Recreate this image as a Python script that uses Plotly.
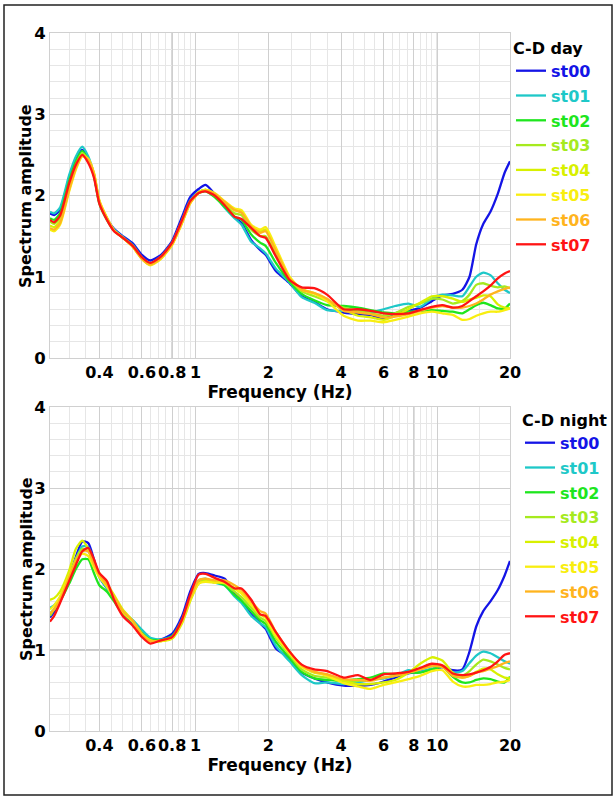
import plotly.graph_objects as go
import math

freq = [0.25, 0.26, 0.275, 0.30, 0.32, 0.34, 0.36, 0.38, 0.40, 0.43, 0.46, 0.50, 0.55, 0.60, 0.65,
        0.72, 0.80, 0.88, 0.95, 1.03, 1.10, 1.20, 1.32, 1.45, 1.55, 1.70, 1.85, 1.95, 2.15, 2.45,
        2.75, 3.1, 3.5, 4.1, 4.7, 5.3, 6.0, 6.7, 7.6, 8.5, 9.5, 10.5, 11.6, 12.7, 13.6, 14.5,
        15.5, 16.6, 17.8, 19.0, 20.0]

stations = ["st00", "st01", "st02", "st03", "st04", "st05", "st06", "st07"]
colors = ["#1414e6", "#1ec8c8", "#1ee61e", "#a6ea1e", "#d8f000", "#f8ee10", "#ffb41e", "#ff1414"]

day_st00 = [1.78, 1.76, 1.82, 2.22, 2.45, 2.56, 2.45, 2.25, 1.92, 1.72, 1.59, 1.50, 1.41, 1.27, 1.20,
            1.27, 1.44, 1.74, 1.98, 2.08, 2.13, 2.02, 1.87, 1.73, 1.66, 1.45, 1.33, 1.27, 1.07, 0.92,
            0.76, 0.69, 0.60, 0.56, 0.54, 0.53, 0.48, 0.55, 0.58, 0.62, 0.70, 0.77, 0.79, 0.84, 1.00,
            1.40, 1.65, 1.80, 2.02, 2.28, 2.42]
day_st01 = [1.80, 1.78, 1.85, 2.25, 2.48, 2.60, 2.48, 2.26, 1.92, 1.71, 1.58, 1.49, 1.39, 1.24, 1.17,
            1.25, 1.42, 1.70, 1.94, 2.04, 2.07, 2.00, 1.85, 1.72, 1.64, 1.43, 1.35, 1.29, 1.10, 0.93,
            0.75, 0.68, 0.59, 0.58, 0.57, 0.56, 0.60, 0.64, 0.67, 0.63, 0.73, 0.78, 0.77, 0.76, 0.88,
            1.00, 1.05, 1.02, 0.92, 0.84, 0.80]
day_st02 = [1.72, 1.70, 1.78, 2.18, 2.42, 2.55, 2.43, 2.24, 1.90, 1.70, 1.57, 1.48, 1.38, 1.23, 1.15,
            1.24, 1.41, 1.68, 1.92, 2.03, 2.05, 1.98, 1.86, 1.74, 1.70, 1.52, 1.42, 1.38, 1.17, 0.94,
            0.79, 0.71, 0.65, 0.64, 0.62, 0.59, 0.56, 0.55, 0.57, 0.58, 0.59, 0.58, 0.57, 0.55, 0.60,
            0.65, 0.68, 0.65, 0.61, 0.61, 0.67]
day_st03 = [1.68, 1.65, 1.72, 2.12, 2.38, 2.52, 2.44, 2.25, 1.92, 1.71, 1.57, 1.48, 1.38, 1.23, 1.16,
            1.24, 1.41, 1.68, 1.92, 2.04, 2.07, 2.00, 1.89, 1.78, 1.76, 1.58, 1.50, 1.50, 1.27, 0.97,
            0.82, 0.76, 0.70, 0.62, 0.58, 0.55, 0.52, 0.55, 0.63, 0.67, 0.73, 0.72, 0.67, 0.70, 0.78,
            0.90, 0.92, 0.89, 0.87, 0.88, 0.86]
day_st04 = [1.63, 1.61, 1.68, 2.08, 2.35, 2.50, 2.45, 2.27, 1.93, 1.72, 1.57, 1.48, 1.37, 1.22, 1.15,
            1.23, 1.40, 1.67, 1.91, 2.04, 2.07, 2.02, 1.91, 1.82, 1.80, 1.62, 1.56, 1.58, 1.33, 0.99,
            0.85, 0.80, 0.72, 0.60, 0.52, 0.50, 0.47, 0.52, 0.60, 0.68, 0.76, 0.76, 0.73, 0.69, 0.72,
            0.74, 0.77, 0.76, 0.66, 0.62, 0.61]
day_st05 = [1.58, 1.56, 1.64, 2.05, 2.32, 2.48, 2.45, 2.28, 1.94, 1.73, 1.57, 1.48, 1.37, 1.22, 1.14,
            1.22, 1.39, 1.66, 1.90, 2.03, 2.07, 2.03, 1.93, 1.84, 1.82, 1.64, 1.58, 1.61, 1.36, 1.00,
            0.84, 0.79, 0.70, 0.52, 0.46, 0.46, 0.44, 0.47, 0.51, 0.55, 0.57, 0.55, 0.53, 0.47, 0.48,
            0.52, 0.55, 0.57, 0.57, 0.59, 0.61]
day_st06 = [1.60, 1.58, 1.66, 2.07, 2.34, 2.49, 2.44, 2.27, 1.93, 1.72, 1.57, 1.48, 1.37, 1.22, 1.15,
            1.23, 1.40, 1.67, 1.91, 2.03, 2.06, 2.02, 1.92, 1.82, 1.79, 1.62, 1.54, 1.56, 1.32, 0.98,
            0.84, 0.80, 0.73, 0.58, 0.56, 0.54, 0.50, 0.51, 0.54, 0.58, 0.62, 0.64, 0.62, 0.62, 0.64,
            0.67, 0.72, 0.78, 0.82, 0.85, 0.87]
day_st07 = [1.70, 1.67, 1.75, 2.15, 2.38, 2.50, 2.40, 2.22, 1.90, 1.70, 1.56, 1.48, 1.38, 1.24, 1.17,
            1.25, 1.42, 1.70, 1.93, 2.03, 2.05, 2.00, 1.88, 1.74, 1.71, 1.60, 1.50, 1.48, 1.25, 0.96,
            0.87, 0.86, 0.78, 0.60, 0.60, 0.58, 0.55, 0.54, 0.55, 0.59, 0.63, 0.65, 0.62, 0.64, 0.70,
            0.76, 0.82, 0.89, 0.98, 1.04, 1.07]

night_st00 = [1.40, 1.47, 1.62, 1.90, 2.15, 2.34, 2.32, 2.12, 1.90, 1.76, 1.64, 1.45, 1.34, 1.20, 1.12,
              1.13, 1.20, 1.42, 1.72, 1.94, 1.95, 1.92, 1.88, 1.70, 1.60, 1.44, 1.33, 1.26, 1.02, 0.90,
              0.72, 0.65, 0.60, 0.56, 0.56, 0.57, 0.61, 0.66, 0.71, 0.73, 0.76, 0.79, 0.75, 0.76, 0.98,
              1.29, 1.48, 1.60, 1.74, 1.92, 2.10]
night_st01 = [1.52, 1.55, 1.65, 1.92, 2.12, 2.28, 2.27, 2.08, 1.90, 1.76, 1.62, 1.47, 1.37, 1.25, 1.15,
              1.13, 1.17, 1.38, 1.65, 1.86, 1.88, 1.83, 1.80, 1.66, 1.58, 1.42, 1.33, 1.28, 1.05, 0.86,
              0.69, 0.59, 0.60, 0.58, 0.60, 0.63, 0.65, 0.68, 0.75, 0.73, 0.77, 0.80, 0.72, 0.74, 0.84,
              0.93, 0.98, 0.96, 0.91, 0.86, 0.83]
night_st02 = [1.45, 1.50, 1.60, 1.82, 2.00, 2.12, 2.12, 1.95, 1.80, 1.72, 1.60, 1.45, 1.35, 1.21, 1.13,
              1.12, 1.17, 1.37, 1.63, 1.85, 1.87, 1.84, 1.80, 1.68, 1.61, 1.48, 1.37, 1.32, 1.10, 0.90,
              0.73, 0.65, 0.63, 0.62, 0.64, 0.66, 0.71, 0.70, 0.72, 0.72, 0.76, 0.79, 0.67, 0.60, 0.60,
              0.63, 0.65, 0.64, 0.61, 0.60, 0.67]
night_st03 = [1.42, 1.50, 1.63, 1.90, 2.13, 2.25, 2.22, 2.05, 1.93, 1.80, 1.66, 1.47, 1.35, 1.20, 1.12,
              1.11, 1.15, 1.36, 1.63, 1.85, 1.87, 1.85, 1.82, 1.72, 1.65, 1.52, 1.40, 1.36, 1.15, 0.94,
              0.76, 0.68, 0.66, 0.62, 0.62, 0.64, 0.66, 0.68, 0.72, 0.76, 0.80, 0.80, 0.70, 0.68, 0.74,
              0.82, 0.88, 0.86, 0.82, 0.78, 0.76]
night_st04 = [1.62, 1.64, 1.72, 1.98, 2.25, 2.35, 2.25, 2.08, 1.95, 1.82, 1.68, 1.50, 1.36, 1.20, 1.12,
              1.11, 1.14, 1.33, 1.60, 1.82, 1.85, 1.84, 1.84, 1.76, 1.70, 1.56, 1.44, 1.40, 1.18, 0.96,
              0.80, 0.72, 0.70, 0.62, 0.58, 0.58, 0.60, 0.63, 0.72, 0.83, 0.91, 0.87, 0.72, 0.66, 0.68,
              0.73, 0.77, 0.76, 0.70, 0.66, 0.65]
night_st05 = [1.50, 1.55, 1.66, 1.92, 2.10, 2.19, 2.16, 2.02, 1.90, 1.78, 1.64, 1.47, 1.35, 1.19, 1.11,
              1.11, 1.15, 1.35, 1.62, 1.82, 1.84, 1.83, 1.83, 1.76, 1.70, 1.56, 1.44, 1.40, 1.17, 0.96,
              0.79, 0.73, 0.68, 0.59, 0.55, 0.52, 0.57, 0.60, 0.64, 0.68, 0.74, 0.75, 0.61, 0.55, 0.55,
              0.57, 0.57, 0.58, 0.60, 0.61, 0.63]
night_st06 = [1.45, 1.50, 1.62, 1.90, 2.10, 2.22, 2.22, 2.06, 1.93, 1.80, 1.66, 1.48, 1.36, 1.19, 1.11,
              1.12, 1.16, 1.36, 1.64, 1.86, 1.88, 1.86, 1.86, 1.80, 1.74, 1.60, 1.48, 1.45, 1.22, 0.98,
              0.81, 0.73, 0.70, 0.64, 0.63, 0.62, 0.66, 0.68, 0.72, 0.76, 0.80, 0.79, 0.68, 0.66, 0.68,
              0.72, 0.74, 0.77, 0.80, 0.84, 0.86]
night_st07 = [1.35, 1.42, 1.58, 1.85, 2.05, 2.22, 2.26, 2.12, 1.95, 1.85, 1.62, 1.42, 1.30, 1.16, 1.08,
              1.12, 1.16, 1.38, 1.68, 1.93, 1.94, 1.89, 1.84, 1.76, 1.76, 1.62, 1.44, 1.42, 1.22, 0.98,
              0.82, 0.76, 0.74, 0.66, 0.69, 0.63, 0.70, 0.71, 0.73, 0.78, 0.83, 0.81, 0.71, 0.69, 0.70,
              0.72, 0.75, 0.79, 0.86, 0.94, 0.96]

day_series = [day_st00, day_st01, day_st02, day_st03, day_st04, day_st05, day_st06, day_st07]
night_series = [night_st00, night_st01, night_st02, night_st03, night_st04, night_st05, night_st06, night_st07]

x_tickvals = [0.4, 0.6, 0.8, 1, 2, 4, 6, 8, 10, 20]
x_ticktext = ["0.4", "0.6", "0.8", "1", "2", "4", "6", "8", "10", "20"]
x_minor = [0.3, 0.35, 0.45, 0.5, 0.55, 0.65, 0.7, 0.75, 0.85, 0.9, 0.95, 1.5, 2.5, 3, 3.5, 4.5, 5,
           5.5, 6.5, 7, 7.5, 8.5, 9, 9.5, 15]
y_tickvals = [0, 1, 2, 3, 4]
y_minor = [0.2, 0.4, 0.6, 0.8, 1.2, 1.4, 1.6, 1.8, 2.2, 2.4, 2.6, 2.8, 3.2, 3.4, 3.6, 3.8]
legend_titles = ["C-D day", "C-D night"]
x_title = "Frequency (Hz)"
y_title = "Spectrum amplitude"

FONT = "DejaVu Sans"
W, H = 616, 798
ML, MR, MT, MB = 50, 106, 33, 67
PW, PH = W - ML - MR, H - MT - MB

def py(p):  # pixel y -> paper
    return (H - MB - p) / PH

def px(p):
    return (p - ML) / PW

fig = go.Figure()
for panel, series in enumerate([day_series, night_series]):
    for i, st in enumerate(stations):
        fig.add_trace(go.Scatter(
            x=freq, y=series[i], mode="lines",
            line=dict(color=colors[i], width=2.3, shape="spline", smoothing=0.6),
            name=f"<span style='color:{colors[i]}'>{st}</span>",
            legendgroup=f"{panel}{st}",
            legend="legend" if panel == 0 else "legend2",
            xaxis="x" if panel == 0 else "x2",
            yaxis="y" if panel == 0 else "y2",
            hoverinfo="skip",
        ))

xcommon = dict(
    type="log", range=[math.log10(0.25), math.log10(20)],
    tickmode="array", tickvals=x_tickvals, ticktext=x_ticktext, tickangle=0,
    showgrid=True, gridcolor="#cfcfcf", gridwidth=1,
    minor=dict(tickmode="array", tickvals=x_minor, showgrid=True, gridcolor="#e6e6e6", gridwidth=1, ticks=""),
    ticks="", showline=True, linecolor="#d0d0d0", mirror=True,
    tickfont=dict(family=FONT, size=16, color="black", weight="bold"),
    title=dict(text=x_title, font=dict(family=FONT, size=17, color="black", weight="bold"), standoff=4),
    zeroline=False,
)
ycommon = dict(
    range=[0, 4], tickmode="array", tickvals=y_tickvals,
    showgrid=True, gridcolor="#cfcfcf", gridwidth=1,
    minor=dict(tickmode="array", tickvals=y_minor, showgrid=True, gridcolor="#e6e6e6", gridwidth=1, ticks=""),
    ticks="", showline=True, linecolor="#d0d0d0", mirror=True,
    tickfont=dict(family=FONT, size=16.5, color="black", weight="bold"),
    zeroline=False,
)

top_dom = [py(358), 1.0]
bot_dom = [0.0, py(407)]

legcommon = dict(
    font=dict(family=FONT, size=16, color="black", weight="bold"),
    bgcolor="rgba(0,0,0,0)", borderwidth=0, xanchor="left", yanchor="top",
    tracegroupgap=1, itemwidth=30,
)

ytitle_font = dict(family=FONT, size=16, color="black", weight="bold")

fig.update_layout(
    width=W, height=H,
    margin=dict(l=ML, r=MR, t=MT, b=MB, autoexpand=False),
    paper_bgcolor="white", plot_bgcolor="white",
    showlegend=True,
    xaxis=dict(xcommon, domain=[0, 1], anchor="y"),
    yaxis=dict(ycommon, domain=top_dom, anchor="x"),
    xaxis2=dict(xcommon, domain=[0, 1], anchor="y2"),
    yaxis2=dict(ycommon, domain=bot_dom, anchor="x2"),
    legend=dict(legcommon, x=px(511), y=py(33),
                title=dict(text=legend_titles[0], font=dict(family=FONT, size=16, color="black", weight="bold"))),
    legend2=dict(legcommon, x=px(520), y=py(405),
                 title=dict(text=legend_titles[1], font=dict(family=FONT, size=16, color="black", weight="bold"))),
    annotations=[
        dict(text=y_title, xref="paper", yref="paper", x=px(26), y=py(196), textangle=-90,
             showarrow=False, font=ytitle_font, xanchor="center", yanchor="middle"),
        dict(text=y_title, xref="paper", yref="paper", x=px(26), y=py(569), textangle=-90,
             showarrow=False, font=ytitle_font, xanchor="center", yanchor="middle"),
    ],
    shapes=[
        dict(type="line", xref="x", yref="y domain", x0=0.8, x1=0.8, y0=0, y1=1, line=dict(color="#a0a0a0", width=1), layer="below"),
        dict(type="line", xref="x", yref="y domain", x0=10, x1=10, y0=0, y1=1, line=dict(color="#a0a0a0", width=1), layer="below"),
        dict(type="line", xref="x2", yref="y2 domain", x0=8, x1=8, y0=0, y1=1, line=dict(color="#909090", width=1), layer="below"),
        dict(type="line", xref="x2 domain", yref="y2", x0=0, x1=1, y0=1, y1=1, line=dict(color="#909090", width=1), layer="below"),
        dict(type="rect", xref="paper", yref="paper", x0=px(4), x1=px(612), y0=py(795), y1=py(5),
             line=dict(color="#222222", width=1.5), fillcolor="rgba(0,0,0,0)"),
    ],
)

fig.write_html("out.html", config={"displayModeBar": False},
               post_script="document.body.style.margin='0px';")
